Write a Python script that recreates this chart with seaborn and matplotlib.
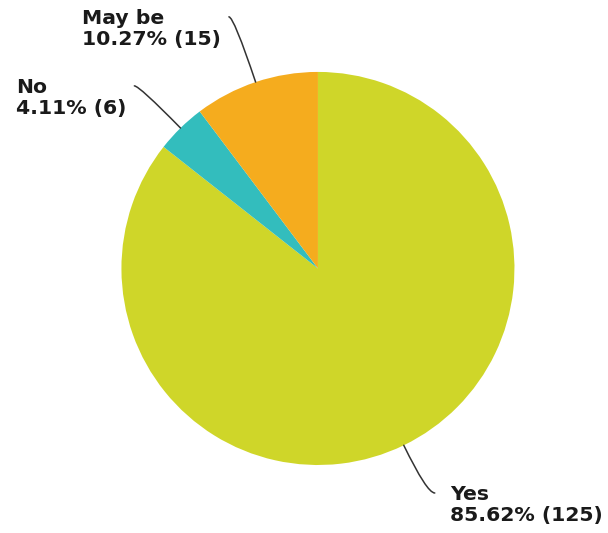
import numpy as np
import matplotlib
matplotlib.use("Agg")
import matplotlib.pyplot as plt
import seaborn as sns

# data
answers = ["Yes", "No", "May be"]
counts = [125, 6, 15]
colors = ["#cfd629", "#33bdbd", "#f5ac1e"]

# where the leader lines bend (in pie radii)
bend = [1.27, 1.30, 1.35]

sns.set_style("white")
plt.rcParams['font.family'] = ['DejaVu Sans']

fig = plt.figure(figsize=(6.08, 5.33), dpi=100)
ax = fig.add_axes([0, 0, 1, 1])
ax.axis('off')

wedges, _ = ax.pie(counts, colors=sns.color_palette(colors), startangle=90,
                   counterclock=False, radius=1.0,
                   wedgeprops=dict(linewidth=0))

ax.set_xlim(-1.618, 1.476)
ax.set_ylim(-1.346, 1.366)
ax.set_aspect('auto')

total = sum(counts)
for w, name, c, b in zip(wedges, answers, counts, bend):
    mid = np.deg2rad((w.theta1 + w.theta2) / 2)
    x0, y0 = np.cos(mid), np.sin(mid)
    right = x0 > 0
    # bend point on the radial line, then a short horizontal run
    xc, yc = b * x0, b * y0
    x1, y1 = xc + (0.04 if right else -0.025), yc
    ax.annotate("", xy=(x0, y0), xytext=(x1, y1),
                arrowprops=dict(arrowstyle='-', color='#333333', lw=1.1,
                                shrinkA=0, shrinkB=0,
                                connectionstyle="angle3,angleA=0,angleB=%.1f"
                                % np.rad2deg(mid)))
    label = "%s\n%.2f%% (%d)" % (name, 100 * c / total, c)
    ax.annotate(label, xy=(x1, y1),
                xytext=(15 if right else -8, 8), textcoords='offset pixels',
                ha='left' if right else 'right', va='top',
                multialignment='left', fontsize=14.7, fontweight='bold',
                color='#1a1a1a', linespacing=1.15)

fig.savefig("out.png", dpi=100)
